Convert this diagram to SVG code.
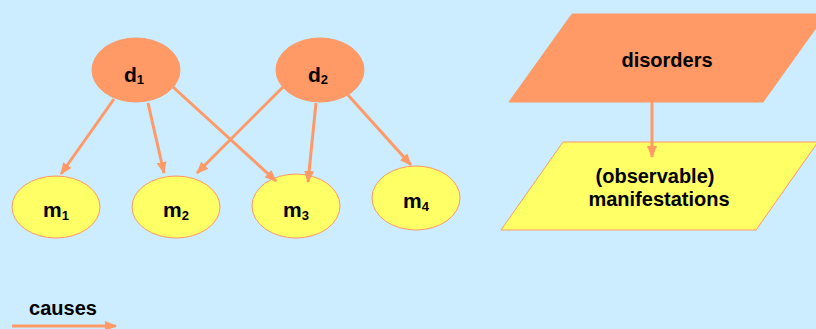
<svg xmlns="http://www.w3.org/2000/svg" width="816" height="329" viewBox="0 0 816 329">
<defs>
<marker id="ah" markerUnits="userSpaceOnUse" markerWidth="12" markerHeight="10" refX="11" refY="5" orient="auto">
<path d="M0,0 L12,5 L0,10 z" fill="#FF9966"/>
</marker>
<style>
.t{font-family:"Liberation Sans",Arial,sans-serif;font-weight:bold;font-size:20px;fill:#000;text-anchor:middle}
.n{font-size:21px}
.s{font-size:13px}
.dis{fill:#FF9966;stroke:#FF9966;stroke-width:1}
.man{fill:#FFFF66;stroke:#FF9966;stroke-width:1}
.c{stroke:#FF9966;stroke-width:3;fill:none;marker-end:url(#ah)}
</style>
</defs>
<rect width="816" height="329" fill="#CCECFF"/>
<g id="d1"><ellipse class="dis" cx="136" cy="70" rx="44" ry="32"/><text class="t n" x="134" y="82">d<tspan class="s" dy="2">1</tspan></text></g>
<g id="d2"><ellipse class="dis" cx="320" cy="70" rx="44" ry="32"/><text class="t n" x="318" y="82">d<tspan class="s" dy="2">2</tspan></text></g>
<g id="m1"><ellipse class="man" cx="56" cy="207" rx="44" ry="31"/><text class="t n" x="56" y="217">m<tspan class="s" dy="3">1</tspan></text></g>
<g id="m2"><ellipse class="man" cx="176" cy="207" rx="44" ry="31"/><text class="t n" x="176" y="217">m<tspan class="s" dy="3">2</tspan></text></g>
<g id="m3"><ellipse class="man" cx="296" cy="206" rx="44" ry="32"/><text class="t n" x="296" y="217">m<tspan class="s" dy="3">3</tspan></text></g>
<g id="m4"><ellipse class="man" cx="416" cy="198" rx="44" ry="32"/><text class="t n" x="416" y="208">m<tspan class="s" dy="3">4</tspan></text></g>
<g id="disorders"><polygon class="dis" points="572,14 826,14 763,102 509,102"/><text class="t" x="667" y="67">disorders</text></g>
<g id="manifestations"><polygon class="man" points="563,142 818,142 756,230 501,230"/><text class="t" x="655" y="183">(observable)</text><text class="t" x="659" y="206">manifestations</text></g>
<g id="legend"><text class="t" x="63" y="315">causes</text></g>
<g id="connectors">
<line class="c" x1="114" y1="99" x2="61" y2="174"/>
<line class="c" x1="148" y1="103" x2="164" y2="173"/>
<line class="c" x1="173" y1="87" x2="276" y2="181"/>
<line class="c" x1="283" y1="87" x2="197" y2="173"/>
<line class="c" x1="316" y1="103" x2="308" y2="182"/>
<line class="c" x1="348" y1="95" x2="411" y2="165"/>
<line class="c" x1="652" y1="102" x2="652" y2="157"/>
<line class="c" x1="12" y1="326" x2="116" y2="326"/>
</g>
</svg>
